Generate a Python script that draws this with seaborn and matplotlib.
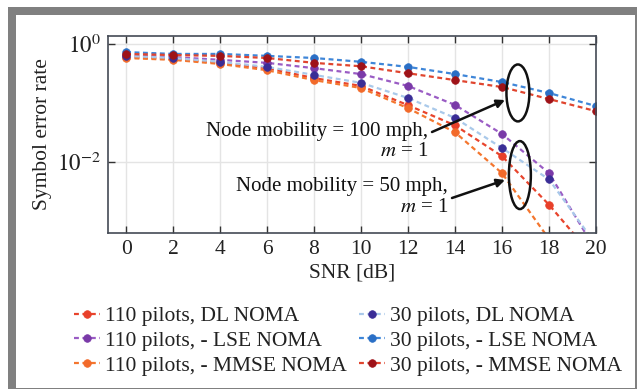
import numpy as np
import pandas as pd
import matplotlib
matplotlib.use("Agg")
import matplotlib.pyplot as plt
import seaborn as sns
from matplotlib.patches import Ellipse, Rectangle
from matplotlib.ticker import NullLocator

# ---- data ----
snr = [0, 2, 4, 6, 8, 10, 12, 14, 16, 18, 20]
ser_110_dl = [0.60, 0.56, 0.48, 0.39, 0.265, 0.195, 0.092, 0.042, 0.0126, 0.0019, 0.00022]
ser_110_lse = [0.65, 0.60, 0.54, 0.48, 0.39, 0.31, 0.195, 0.093, 0.030, 0.0065, 0.00032]
ser_110_mmse = [0.58, 0.54, 0.46, 0.36, 0.245, 0.18, 0.082, 0.032, 0.0065, 0.0005, 0.00005]
ser_30_dl = [0.63, 0.58, 0.50, 0.41, 0.30, 0.22, 0.122, 0.056, 0.0173, 0.0051, 0.0004]
ser_30_lse = [0.73, 0.68, 0.68, 0.63, 0.58, 0.50, 0.41, 0.31, 0.227, 0.148, 0.089]
ser_30_mmse = [0.68, 0.65, 0.63, 0.58, 0.48, 0.42, 0.32, 0.245, 0.187, 0.117, 0.073]
labels = ["110 pilots, DL NOMA", "110 pilots, - LSE NOMA", "110 pilots, - MMSE NOMA",
          "30 pilots, DL NOMA", "30 pilots, - LSE NOMA", "30 pilots, - MMSE NOMA"]
series = [ser_110_dl, ser_110_lse, ser_110_mmse, ser_30_dl, ser_30_lse, ser_30_mmse]
xticks = [0, 2, 4, 6, 8, 10, 12, 14, 16, 18, 20]

line_colors = ["#e8442c", "#9a5cc4", "#f4762e", "#a9c9ea", "#3f86d8", "#e0452e"]
marker_colors = ["#e8402a", "#7a3aa8", "#f26a2a", "#3a2d96", "#2a6fc6", "#9e1218"]

sns.set_theme(style="white")
plt.rcParams['font.family'] = ['Liberation Serif', 'DejaVu Serif']
plt.rcParams['mathtext.fontset'] = 'stix'
FS = 15.5

fig = plt.figure(figsize=(6.37, 3.89), dpi=100)
fig.patch.set_facecolor('white')
W, H = 637, 389
fig.patches.append(Rectangle((8 / W, 0), 1 - 8 / W, (H - 7) / H, transform=fig.transFigure,
                             facecolor='#808080', edgecolor='none', zorder=-10))
fig.patches.append(Rectangle((16 / W, 1 / H), (635 - 16) / W, (388 - 15) / H, transform=fig.transFigure,
                             facecolor='white', edgecolor='none', zorder=-9))

ax = fig.add_axes([108 / W, 1 - 233 / H, (596 - 108) / W, (233 - 36) / H])
ax.set_facecolor('white')

for lab, vals, lc, mc in zip(labels, series, line_colors, marker_colors):
    df = pd.DataFrame({"SNR": snr, "SER": vals})
    sns.lineplot(data=df, x="SNR", y="SER", ax=ax, color=lc, label=lab,
                 linestyle=(0, (2.2, 1.6)), linewidth=1.6,
                 marker='o', markersize=5.5, markerfacecolor=mc, markeredgecolor=mc,
                 markeredgewidth=0.5)

ax.set_yscale('log')
ax.set_xlim(-0.77, 20)
ax.set_ylim(10 ** -3.2, 10 ** 0.136)
ax.set_xticks(xticks)
ax.set_xticklabels([str(t) for t in xticks], fontsize=FS)
ax.set_yticks([1e-2, 1])
ax.set_yticklabels([r'$10^{-2}$', r'$10^{0}$'], fontsize=FS + 1)
ax.yaxis.set_minor_locator(NullLocator())
ax.tick_params(axis='both', which='major', direction='in', length=5, width=1,
               top=True, right=True, bottom=True, left=True, colors='#333333',
               labelcolor='#222222', pad=5)
ax.grid(True, color='#e4e4e4', linewidth=1)
for s in ax.spines.values():
    s.set_color('#444a55')
    s.set_linewidth(1.2)
ax.set_xlabel("SNR [dB]", fontsize=FS, color='#222222', labelpad=3)
ax.set_ylabel("Symbol error rate", fontsize=FS, color='#222222', labelpad=4)

# annotations
fig.text(428 / W, 1 - 141.5 / H, "Node mobility = 100 mph,\n$m$ = 1", ha='right', va='center',
         multialignment='right', fontsize=15, linespacing=1.1, color='#111111')
fig.text(448 / W, 1 - 197 / H, "Node mobility = 50 mph,\n$m$ = 1", ha='right', va='center',
         multialignment='right', fontsize=15, linespacing=1.1, color='#111111')
arrowprops = dict(arrowstyle='-|>', lw=1.8, color='#111111', mutation_scale=12, shrinkA=0, shrinkB=0)
ax.annotate("", xy=(505, H - 100), xycoords='figure pixels', xytext=(432, H - 132),
            textcoords='figure pixels', arrowprops=arrowprops)
ax.annotate("", xy=(505, H - 180), xycoords='figure pixels', xytext=(452, H - 198),
            textcoords='figure pixels', arrowprops=arrowprops)
ax.add_patch(Ellipse((0.840, 0.711), 0.047, 0.289, transform=ax.transAxes,
                     fill=False, edgecolor='#111111', lw=1.8, zorder=5))
ax.add_patch(Ellipse((0.844, 0.294), 0.045, 0.345, transform=ax.transAxes,
                     fill=False, edgecolor='#111111', lw=1.8, zorder=5))

leg = ax.legend(loc='upper left', bbox_to_anchor=(74 / W, 1 - 306 / H), bbox_transform=fig.transFigure,
                ncol=2, frameon=False, fontsize=FS, handlelength=1.2, handletextpad=0.25,
                columnspacing=0.55, labelspacing=0.22, borderpad=0, borderaxespad=0)
for t in leg.get_texts():
    t.set_color('#222222')

fig.savefig("out.png", dpi=100, facecolor='white')
